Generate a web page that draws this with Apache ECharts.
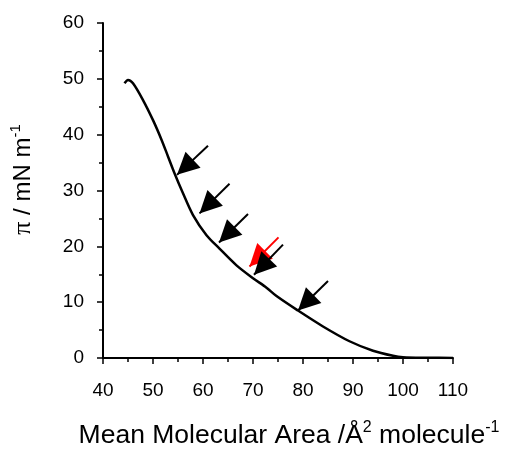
<!DOCTYPE html>
<html>
<head>
<meta charset="utf-8">
<script src="https://cdn.jsdelivr.net/npm/echarts@6/dist/echarts.min.js"></script>
<style>
html, body { margin: 0; padding: 0; background: #fff; }
#chart { width: 507px; height: 449px; }
</style>
</head>
<body>
<div id="chart"></div>
<script>
// isotherm
var areaX = [44.3, 45.0, 46.0, 48.0, 50.0, 51.7, 53.0, 54.3, 56.0, 58.0, 60.7, 63.3, 66.7, 70.0, 72.7, 74.7, 79.0, 84.0, 89.3, 94.0, 98.0, 100.0, 105.0, 110.0];
var pressure = [49.2, 49.8, 49.2, 46.2, 42.6, 39.1, 36.1, 33.1, 29.5, 25.6, 22.0, 19.6, 16.6, 14.3, 12.6, 11.1, 8.5, 5.65, 3.0, 1.3, 0.4, 0.15, 0.05, 0];
// arrows: [tailX, tailY, tipX, tipY]
var blackArrows = [
    [61.0, 38.0, 54.8, 32.8],
    [65.3, 31.2, 59.3, 25.9],
    [69.0, 25.8, 63.2, 20.7],
    [76.0, 20.3, 70.2, 14.9],
    [85.0, 13.8, 79.0, 8.5]
];
var redArrows = [
    [75.1, 21.6, 69.3, 16.4]
];
var xTicks = [40, 50, 60, 70, 80, 90, 100, 110];
var yTicks = [0, 10, 20, 30, 40, 50, 60];

var chart = echarts.init(document.getElementById('chart'));

// triangle head with its tip in the middle of a square box (the two
// moveTo points only widen the box), so the tip lands on the line end
var HEAD = 'path://M-22,-22M22,22M0,0L-11,22L11,22Z';

function toLines(list) {
    return list.map(function (a) {
        return { coords: [[a[0], a[1]], [a[2], a[3]]] };
    });
}

var curve = areaX.map(function (x, i) { return [x, pressure[i]]; });

var axisCommon = {
    axisLine: { show: true, lineStyle: { color: '#000', width: 2 } },
    axisTick: { show: true, inside: false, length: 6, lineStyle: { color: '#000', width: 1.5 } },
    minorTick: { show: true, splitNumber: 2, length: 4, lineStyle: { color: '#000', width: 1.5 } },
    splitLine: { show: false },
    axisLabel: { color: '#000', fontSize: 19, fontFamily: 'Liberation Sans' }
};

option = {
    backgroundColor: '#fff',
    animation: false,
    grid: { left: 103, right: 54, top: 23, bottom: 91, outerBoundsMode: 'none' },
    xAxis: Object.assign({}, axisCommon, {
        type: 'value',
        min: xTicks[0],
        max: xTicks[xTicks.length - 1],
        interval: 10,
        axisLabel: Object.assign({}, axisCommon.axisLabel, { margin: 23 }),
        name: '{t|Mean Molecular Area /Å}{s|2}{t| molecule}{s|-1}',
        nameLocation: 'middle',
        nameGap: 62,
        nameTextStyle: {
            padding: [0, 0, 0, 22],
            rich: {
                t: { fontSize: 26.5, color: '#000', fontFamily: 'Liberation Sans', lineHeight: 32 },
                s: { fontSize: 16, color: '#000', fontFamily: 'Liberation Sans', verticalAlign: 'top', lineHeight: 20 }
            }
        }
    }),
    yAxis: Object.assign({}, axisCommon, {
        type: 'value',
        min: yTicks[0],
        max: yTicks[yTicks.length - 1],
        interval: 10,
        axisLabel: Object.assign({}, axisCommon.axisLabel, { margin: 19 }),
        name: '{p|π}{t| / mN m}{s|-1}',
        nameLocation: 'middle',
        nameGap: 65,
        nameTextStyle: {
            padding: [0, 0, 0, 22],
            rich: {
                p: { fontSize: 26, color: '#000', fontFamily: 'Liberation Serif', lineHeight: 30 },
                t: { fontSize: 24, color: '#000', fontFamily: 'Liberation Sans', lineHeight: 30 },
                s: { fontSize: 15, color: '#000', fontFamily: 'Liberation Sans', verticalAlign: 'top', lineHeight: 18 }
            }
        }
    }),
    series: [
        {
            name: 'isotherm',
            type: 'line',
            data: curve,
            smooth: 0.3,
            showSymbol: false,
            symbol: 'none',
            lineStyle: { color: '#000', width: 2.5 },
            z: 2
        },
        {
            name: 'red arrow',
            type: 'lines',
            coordinateSystem: 'cartesian2d',
            data: toLines(redArrows),
            symbol: ['none', HEAD],
            symbolSize: 44,
            lineStyle: { color: '#ff0000', width: 2, opacity: 1 },
            z: 3
        },
        {
            name: 'black arrows',
            type: 'lines',
            coordinateSystem: 'cartesian2d',
            data: toLines(blackArrows),
            symbol: ['none', HEAD],
            symbolSize: 44,
            lineStyle: { color: '#000', width: 2, opacity: 1 },
            z: 4
        }
    ]
};

chart.setOption(option);
</script>
</body>
</html>
